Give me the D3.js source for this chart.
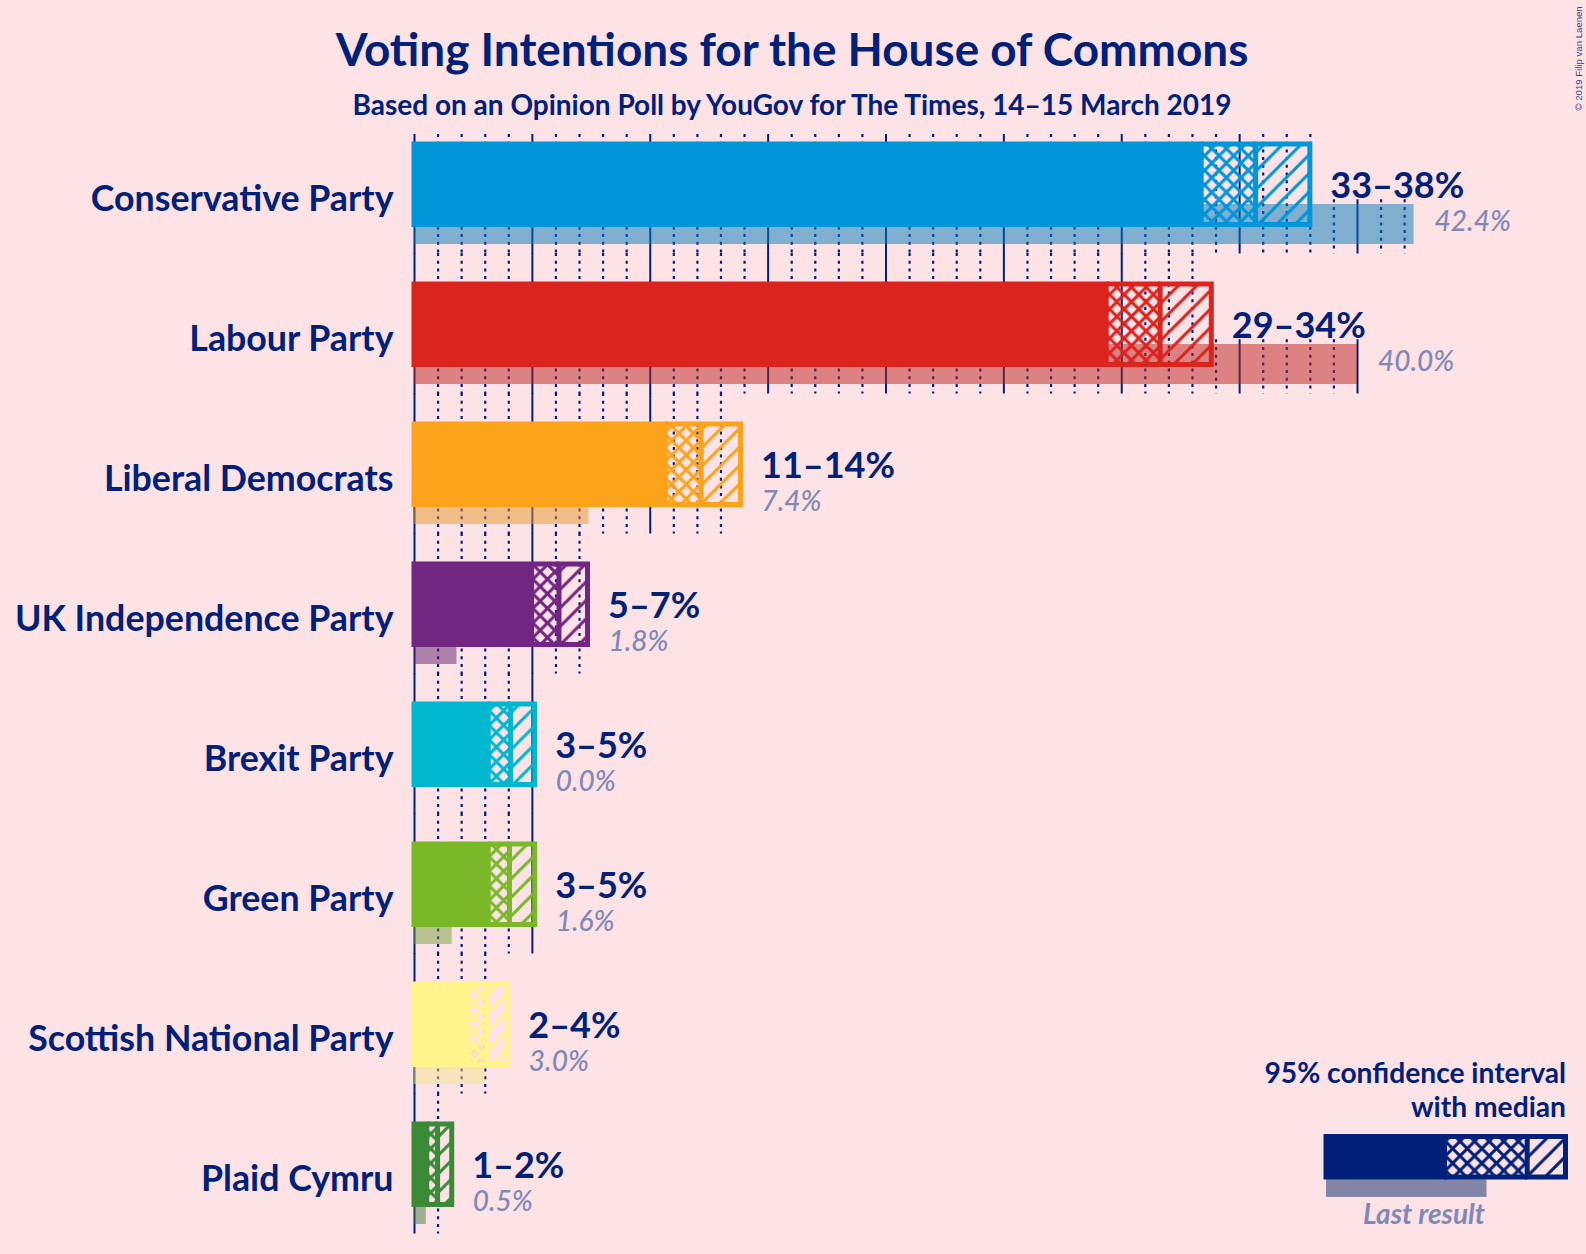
<!DOCTYPE html>
<html>
<head>
<meta charset="utf-8">
<script src="https://cdn.jsdelivr.net/npm/d3@7"></script>
<style>
  html, body { margin: 0; padding: 0; background: #fde2e6; }
  svg { display: block; }
  text { font-family: Lato, sans-serif; }
</style>
</head>
<body>
<div id="chart"></div>
<script>
const parties = ["Conservative Party", "Labour Party", "Liberal Democrats", "UK Independence Party", "Brexit Party", "Green Party", "Scottish National Party", "Plaid Cymru"]
const ciLow = [33.39, 29.36, 10.66, 4.99, 3.15, 3.15, 2.25, 0.54]
const median = [35.7, 31.65, 12.18, 6.15, 4.1, 4.05, 3.08, 1.0]
const ciHigh = [38.0, 33.82, 13.85, 7.36, 5.12, 5.12, 3.98, 1.6]
const lastResult = [42.4, 40.0, 7.4, 1.8, 0.0, 1.6, 3.0, 0.5]
const rangeLabels = ["33–38%", "29–34%", "11–14%", "5–7%", "3–5%", "3–5%", "2–4%", "1–2%"]
const lastLabels = ["42.4%", "40.0%", "7.4%", "1.8%", "0.0%", "1.6%", "3.0%", "0.5%"]
const colors = ["#0096d9", "#dc241f", "#fca31c", "#712782", "#00b7d0", "#7ab82a", "#fff48c", "#3a8a38"]
const lastColors = ["#037cba", "#bb221e", "#e89a2a", "#5f2070", "#00a0b8", "#78a040", "#f5e48c", "#4a7a48"]

const legendStops = [49.5, 84, 100]
const legendLast = 67

const navy = "#00207a"
const grey = "#8088b8"
const width = 1586
const height = 1254

const x = d3.scaleLinear().domain([0, 40]).range([414, 1357])
const y = d3.scaleBand().domain(parties).range([134, 1254])
const legendX = d3.scaleLinear().domain([0, 100]).range([1326, 1565.5])

const svg = d3.select("#chart").append("svg").attr("width", width).attr("height", height)
const defs = svg.append("defs")

function addPatterns(id, color) {
  const cross = defs.append("pattern").attr("id", "cross" + id)
    .attr("patternUnits", "userSpaceOnUse").attr("width", 14.6).attr("height", 14.6)
    .attr("y", 2.5)
  cross.append("path").attr("d", "M-1,1 L1,-1 M0,14.6 L14.6,0 M13.6,15.6 L15.6,13.6 M-1,13.6 L1,15.6 M0,0 L14.6,14.6 M13.6,-1 L15.6,1")
    .attr("stroke", color).attr("stroke-width", 3)
  const diag = defs.append("pattern").attr("id", "diag" + id)
    .attr("patternUnits", "userSpaceOnUse").attr("width", 18.5).attr("height", 18.5)
    .attr("y", 2.5)
  diag.append("path").attr("d", "M-2,2 L2,-2 M0,18.5 L18.5,0 M16.5,20.5 L20.5,16.5")
    .attr("stroke", color).attr("stroke-width", 3)
}

svg.append("text").attr("x", 792).attr("y", 66).attr("text-anchor", "middle")
  .attr("font-size", 45.9).attr("font-weight", 700).attr("fill", navy)
  .text("Voting Intentions for the House of Commons")
svg.append("text").attr("x", 792).attr("y", 115).attr("text-anchor", "middle")
  .attr("font-size", 28).attr("font-weight", 700).attr("fill", navy)
  .text("Based on an Opinion Poll by YouGov for The Times, 14–15 March 2019")
svg.append("text").attr("transform", "translate(1582,110.5) rotate(-90)")
  .style("font-family", "'Liberation Sans', sans-serif")
  .attr("font-size", 9.6).attr("fill", navy).attr("fill-opacity", 0.85)
  .text("© 2019 Filip van Laenen")

// ticks first, they sit behind everything
parties.forEach((p, i) => {
  const top = y(p)
  const lastTick = Math.floor(Math.max(ciHigh[i], lastResult[i]))
  const g = svg.append("g").attr("transform", `translate(0,${top})`)
    .call(d3.axisBottom(x).tickValues(d3.range(0, lastTick + 1)).tickSize(119.5).tickFormat(""))
  g.select(".domain").remove()
  g.selectAll(".tick line")
    .attr("y1", d => d > ciHigh[i] ? 65.3 : i === 0 ? 0 : -21)
    .attr("stroke", navy)
    .attr("stroke-width", d => d % 5 === 0 ? 2 : 2.2)
    .attr("stroke-dasharray", d => d % 5 === 0 ? null : "3 4.7")
})

function drawBar(g, scale, low, med, high, last, color, lastColor, id, barTop, barH, lastTop, lastH) {
  addPatterns(id, color)
  const stroke = 5
  g.append("rect").attr("x", scale(0)).attr("y", lastTop).attr("width", scale(last) - scale(0)).attr("height", lastH)
    .attr("fill", lastColor).attr("fill-opacity", 0.5)
  g.append("rect").attr("x", scale(low)).attr("y", barTop).attr("width", scale(med) - scale(low)).attr("height", barH)
    .attr("fill", `url(#cross${id})`)
  g.append("rect").attr("x", scale(med)).attr("y", barTop).attr("width", scale(high) - scale(med)).attr("height", barH)
    .attr("fill", `url(#diag${id})`).attr("stroke", color).attr("stroke-width", stroke)
  // top and bottom edge of the crossed part
  g.append("path")
    .attr("d", `M${scale(low)},${barTop}H${scale(med)}M${scale(low)},${barTop + barH}H${scale(med)}`)
    .attr("stroke", color).attr("stroke-width", stroke).attr("fill", "none")
  g.append("rect").attr("x", scale(0)).attr("y", barTop).attr("width", scale(low) - scale(0)).attr("height", barH)
    .attr("fill", color).attr("stroke", color).attr("stroke-width", stroke)
}

parties.forEach((p, i) => {
  const top = y(p)
  const g = svg.append("g")
  drawBar(g, x, ciLow[i], median[i], ciHigh[i], lastResult[i], colors[i], lastColors[i], i, top + 10, 80.5, top + 70, 40)

  g.append("text").attr("x", 393.5).attr("y", top + 77).attr("text-anchor", "end")
    .attr("font-size", 35.75).attr("font-weight", 700).attr("fill", navy).text(p)
  g.append("text").attr("x", x(ciHigh[i]) + 20.5).attr("y", top + 63.5).attr("font-size", 36)
    .attr("font-weight", 700).attr("fill", navy).text(rangeLabels[i])
  g.append("text").attr("x", x(Math.max(ciHigh[i], lastResult[i])) + 21).attr("y", top + 97)
    .attr("font-size", 28).attr("font-style", "italic").attr("font-weight", 500)
    .attr("fill", grey).text(lastLabels[i])
})

// legend
const legend = svg.append("g")
drawBar(legend, legendX, legendStops[0], legendStops[1], legendStops[2], legendLast, navy, "#072864", "legend", 1136.5, 40.5, 1179.2, 17.7)
legend.append("text").attr("x", 1566).attr("y", 1083).attr("text-anchor", "end")
  .attr("font-size", 28.2).attr("font-weight", 700).attr("fill", navy).text("95% confidence interval")
legend.append("text").attr("x", 1566).attr("y", 1117).attr("text-anchor", "end")
  .attr("font-size", 28.2).attr("font-weight", 700).attr("fill", navy).text("with median")
legend.append("text").attr("x", 1485).attr("y", 1224).attr("text-anchor", "end")
  .attr("font-size", 28).attr("font-style", "italic").attr("font-weight", 700).attr("fill", grey).text("Last result")
</script>
</body>
</html>
